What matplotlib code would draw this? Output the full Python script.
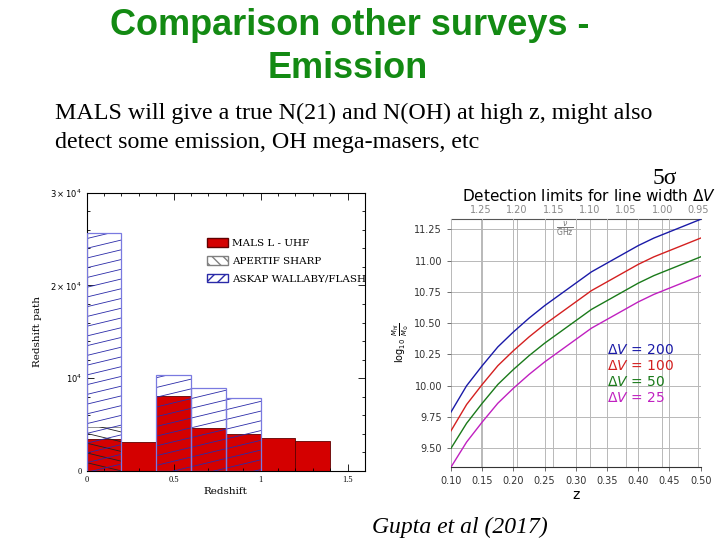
import matplotlib
matplotlib.use("Agg")
import matplotlib.pyplot as plt
import numpy as np
from matplotlib.collections import LineCollection
from matplotlib.patches import Patch
from matplotlib.ticker import MultipleLocator, FuncFormatter

# --- left panel: redshift path per survey (bins of 0.2 in z) ---
bin_width = 0.2
mals_left = [0.0, 0.2, 0.4, 0.6, 0.8, 1.0, 1.2]
mals_path = [3400, 3100, 8100, 4600, 4000, 3600, 3250]
apertif_left = [0.0]
apertif_path = [4750]
askap_left = [0.0, 0.4, 0.6, 0.8]
askap_path = [25600, 10300, 8950, 7830]
survey_names = ["MALS L - UHF", "APERTIF SHARP", "ASKAP WALLABY/FLASH"]

# --- right panel: 5 sigma HI mass limits vs z ---
z_vals = [0.100, 0.125, 0.150, 0.175, 0.200, 0.225, 0.250, 0.275, 0.300,
          0.325, 0.350, 0.375, 0.400, 0.425, 0.450, 0.475, 0.500]
mhi_dv200 = [9.79, 10.00, 10.16, 10.31, 10.43, 10.54, 10.64, 10.73, 10.82,
             10.91, 10.98, 11.05, 11.12, 11.18, 11.23, 11.28, 11.33]
mhi_dv100 = [9.64, 9.85, 10.01, 10.16, 10.28, 10.39, 10.49, 10.58, 10.67,
             10.76, 10.83, 10.90, 10.97, 11.03, 11.08, 11.13, 11.18]
mhi_dv50 = [9.50, 9.70, 9.86, 10.01, 10.13, 10.24, 10.34, 10.43, 10.52,
            10.61, 10.68, 10.75, 10.82, 10.88, 10.93, 10.98, 11.03]
mhi_dv25 = [9.35, 9.55, 9.71, 9.86, 9.98, 10.09, 10.19, 10.28, 10.37,
            10.46, 10.53, 10.60, 10.67, 10.73, 10.78, 10.83, 10.88]
dv_labels = ["200", "100", "50", "25"]
nu_ticks = [1.25, 1.20, 1.15, 1.10, 1.05, 1.00, 0.95]

GREEN = "#138a13"
SERIF = ["Liberation Serif", "DejaVu Serif"]


def hatch_bar(ax, rect, slope, step, color):
    # shallow parallel hatch lines clipped to one bar
    xs = np.array([0.0, 1.0])
    segs = [np.column_stack([xs, off + slope * xs])
            for off in np.arange(-0.6, 1.6, step)]
    lc = LineCollection(segs, colors=color, linewidths=0.6,
                        transform=ax.transAxes, zorder=3)
    ax.add_collection(lc, autolim=False)
    lc.set_clip_path(rect)


fig = plt.figure(figsize=(7.2, 5.4), dpi=100)
fig.patch.set_facecolor("white")

# slide text
fig.text(0.486, 0.952, "Comparison other surveys -", ha="center", va="center",
         fontsize=26, fontweight="bold", color=GREEN, family="Liberation Sans")
fig.text(0.483, 0.874, "Emission", ha="center", va="center",
         fontsize=26, fontweight="bold", color=GREEN, family="Liberation Sans")
fig.text(0.076, 0.790, "MALS will give a true N(21) and N(OH) at high z, might also",
         ha="left", va="center", fontsize=17.3, family=SERIF)
fig.text(0.076, 0.737, "detect some emission, OH mega-masers, etc",
         ha="left", va="center", fontsize=17.3, family=SERIF)
fig.text(0.924, 0.670, "5σ", ha="center", va="center", fontsize=17, family=SERIF)
fig.text(0.639, 0.024, "Gupta et al (2017)", ha="center", va="center",
         fontsize=17, family=SERIF, style="italic")

# left panel
ax = fig.add_axes([0.1204, 0.1278, 0.3865, 0.5154])
ax.bar(mals_left, mals_path, width=bin_width, align="edge", color="#d40000",
       edgecolor="#600000", linewidth=0.6, zorder=1)
ape = ax.bar(apertif_left, apertif_path, width=bin_width, align="edge", fill=False,
             edgecolor="#808080", linewidth=0.6, zorder=2)
ask = ax.bar(askap_left, askap_path, width=bin_width, align="edge", fill=False,
             edgecolor="#7a7ae0", linewidth=0.9, zorder=4)
for r in ape:
    hatch_bar(ax, r, -0.24, 0.035, "#202020")
for r in ask:
    hatch_bar(ax, r, 0.24, 0.035, "#2a2aa8")

ax.set_xlim(0, 1.6)
ax.set_ylim(0, 30000)
ax.xaxis.set_major_locator(MultipleLocator(0.5))
ax.xaxis.set_minor_locator(MultipleLocator(0.1))
ax.yaxis.set_major_locator(MultipleLocator(10000))
ax.yaxis.set_minor_locator(MultipleLocator(2000))
ax.xaxis.set_major_formatter(FuncFormatter(lambda v, p: f"{v:g}"))
ylab = {0: "0", 1: r"$10^4$", 2: r"$2\times10^4$", 3: r"$3\times10^4$"}
ax.yaxis.set_major_formatter(FuncFormatter(lambda v, p: ylab.get(int(round(v / 10000)), "")))
ax.tick_params(which="both", direction="in", top=True, right=True,
               labelsize=6, width=0.6)
ax.tick_params(which="major", length=5)
ax.tick_params(which="minor", length=2.5)
for lbl in ax.get_xticklabels() + ax.get_yticklabels():
    lbl.set_family(SERIF)
for s in ax.spines.values():
    s.set_linewidth(0.8)
ax.set_xlabel("Redshift", fontsize=7.5, family="DejaVu Serif", labelpad=2)
ax.set_ylabel("Redshift path", fontsize=7.5, family="DejaVu Serif", labelpad=6)

handles = [Patch(facecolor="#d40000", edgecolor="#600000"),
           Patch(facecolor="white", edgecolor="#808080", hatch="\\\\\\"),
           Patch(facecolor="white", edgecolor="#2a2aa8", hatch="///")]
ax.legend(handles, survey_names, loc="upper left", bbox_to_anchor=(0.40, 0.87),
          frameon=False, prop={"family": "DejaVu Serif", "size": 7.5},
          handlelength=2.0, handleheight=0.9, labelspacing=0.75, handletextpad=0.4)

# right panel
axr = fig.add_axes([0.6264, 0.1346, 0.3468, 0.4593])
axt = axr.twiny()
axr.set_zorder(2)
axt.set_zorder(1)
axr.patch.set_alpha(0)

line_colors = ["#1a1aa8", "#d42020", "#1a7a1a", "#c020c0"]
for yv, c in zip([mhi_dv200, mhi_dv100, mhi_dv50, mhi_dv25], line_colors):
    axr.plot(z_vals, yv, color=c, linewidth=1.0)

axr.set_xlim(0.10, 0.50)
axr.set_ylim(9.348, 11.33)
axr.set_xticks(np.arange(0.10, 0.501, 0.05))
axr.set_yticks(np.arange(9.50, 11.26, 0.25))
axr.xaxis.set_major_formatter(FuncFormatter(lambda v, p: f"{v:.2f}"))
axr.yaxis.set_major_formatter(FuncFormatter(lambda v, p: f"{v:.2f}"))
axr.grid(True, color="#b8b8b8", linewidth=0.7)
axr.tick_params(labelsize=7, labelcolor="#333333", color="#555555", length=3, width=0.6)

axt.set_xlim(1.4204 / 1.1, 1.4204 / 1.5)
axt.set_xticks(nu_ticks)
axt.xaxis.set_major_formatter(FuncFormatter(lambda v, p: f"{v:.2f}"))
axt.grid(True, color="#b8b8b8", linewidth=0.7)
axt.tick_params(labelsize=7, labelcolor="#888888", length=0, pad=3)

for a in (axr, axt):
    a.spines["left"].set_visible(False)
    a.spines["right"].set_visible(False)
axr.spines["top"].set_visible(False)
axt.spines["top"].set_color("#555555")
axt.spines["bottom"].set_visible(False)
axr.spines["bottom"].set_color("#333333")

for i, (lab, c) in enumerate(zip(dv_labels, line_colors)):
    axr.text(0.625, 0.473 - 0.065 * i, rf"$\Delta V$ = {lab}", color=c,
             fontsize=10, va="center", ha="left", transform=axr.transAxes)

axr.set_xlabel("z", fontsize=10, labelpad=1)
axr.set_ylabel(r"$\log_{10}\,\frac{M_{HI}}{M_{\odot}}$", fontsize=7, labelpad=2)
fig.text(0.818, 0.637, r"Detection limits for line width $\Delta V$",
         ha="center", va="center", fontsize=11)
fig.text(0.785, 0.577, r"$\frac{\nu}{\mathrm{GHz}}$", ha="center", va="center",
         fontsize=8, color="#777777")

fig.savefig("out.png", dpi=100)
